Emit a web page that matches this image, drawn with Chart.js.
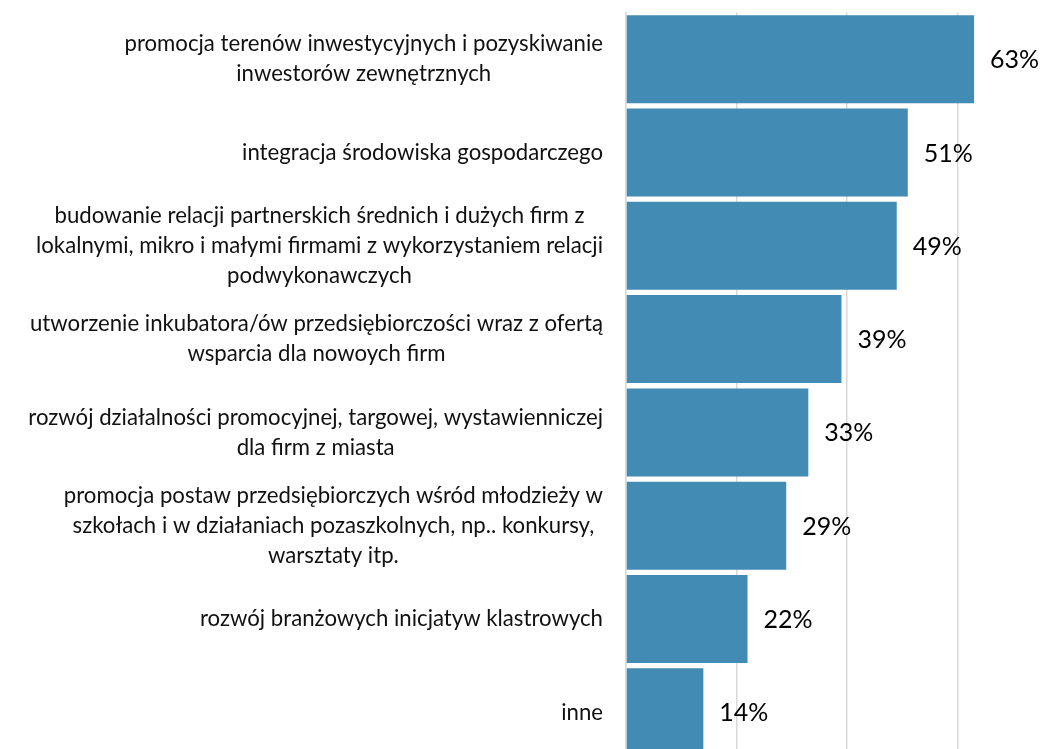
<!DOCTYPE html>
<html>
<head>
<meta charset="utf-8">
<script src="https://cdn.jsdelivr.net/npm/chart.js@4.4.1/dist/chart.umd.min.js"></script>
<style>
  html, body { margin: 0; padding: 0; background: #fff; overflow: hidden; }
  #wrap { width: 1070px; height: 760px; }
</style>
</head>
<body>
<div id="wrap"><canvas id="myChart" width="1070" height="760"></canvas></div>
<script>
// categories (line breaks as in the original)
var categories = [
	["promocja terenów inwestycyjnych i pozyskiwanie", "inwestorów zewnętrznych"],
	["integracja środowiska gospodarczego"],
	["budowanie relacji partnerskich średnich i dużych firm z", "lokalnymi, mikro i małymi firmami z wykorzystaniem relacji", "podwykonawczych"],
	["utworzenie inkubatora/ów przedsiębiorczości wraz z ofertą", "wsparcia dla nowoych firm"],
	["rozwój działalności promocyjnej, targowej, wystawienniczej", "dla firm z miasta"],
	["promocja postaw przedsiębiorczych wśród młodzieży w", "szkołach i w działaniach pozaszkolnych, np.. konkursy,", "warsztaty itp."],
	["rozwój branżowych inicjatyw klastrowych"],
	["inne"],
];
var values = [63, 51, 49, 39, 33, 29, 22, 14];
var xTicks = [0, 20, 40, 60, 80];

var barColor = "#428BB5";
var gridColor = "#d9d9d9";
var labelFont = "22.2px Lato";
var valueFont = "25px Lato";

// category labels: block right aligned, lines centred inside the block
var categoryLabels = {
	id: "categoryLabels",
	afterDraw: function (chart) {
		var ctx = chart.ctx;
		var yScale = chart.scales.y;
		var right = 603;
		var lineH = 30;
		ctx.save();
		ctx.font = labelFont;
		ctx.fillStyle = "#111";
		ctx.textAlign = "center";
		ctx.textBaseline = "middle";
		categories.forEach(function (lines, i) {
			var yc = yScale.getPixelForTick(i);
			var w = 0;
			lines.forEach(function (l) {
				w = Math.max(w, ctx.measureText(l).width);
			});
			var cx = right - w / 2;
			var y0 = yc - ((lines.length - 1) * lineH) / 2;
			lines.forEach(function (l, k) {
				ctx.fillText(l, cx, y0 + k * lineH);
			});
		});
		ctx.restore();
	},
};

// value labels at the end of each bar
var valueLabels = {
	id: "valueLabels",
	afterDatasetsDraw: function (chart) {
		var ctx = chart.ctx;
		var meta = chart.getDatasetMeta(0);
		ctx.save();
		ctx.font = valueFont;
		ctx.fillStyle = "#000";
		ctx.textAlign = "left";
		ctx.textBaseline = "middle";
		meta.data.forEach(function (bar, i) {
			ctx.fillText(values[i] + "%", bar.x + 16, bar.y + 1);
		});
		ctx.restore();
	},
};

var el = document.getElementById("myChart");
new Chart(el, {
	type: "bar",
	data: {
		labels: categories.map(function (c) { return c.join(" "); }),
		datasets: [
			{
				data: values,
				backgroundColor: barColor,
				borderWidth: 0,
				categoryPercentage: 1,
				barPercentage: 0.943,
			},
		],
	},
	options: {
		indexAxis: "y",
		responsive: false,
		animation: false,
		layout: { padding: { top: 12.5, bottom: 1, right: 2, left: 0 } },
		plugins: {
			legend: { display: false },
			tooltip: { enabled: false },
		},
		scales: {
			x: {
				min: 0,
				max: 80,
				afterBuildTicks: function (scale) {
					scale.ticks = xTicks.map(function (v) { return { value: v }; });
				},
				ticks: { display: false },
				grid: { color: gridColor, lineWidth: 1.5, drawTicks: false },
				border: { display: false },
			},
			y: {
				afterFit: function (scale) {
					scale.width = 626;
				},
				ticks: { display: false },
				grid: { display: false, drawTicks: false },
				border: { display: true, color: gridColor, width: 1.5 },
			},
		},
	},
	plugins: [categoryLabels, valueLabels],
});
</script>
</body>
</html>
